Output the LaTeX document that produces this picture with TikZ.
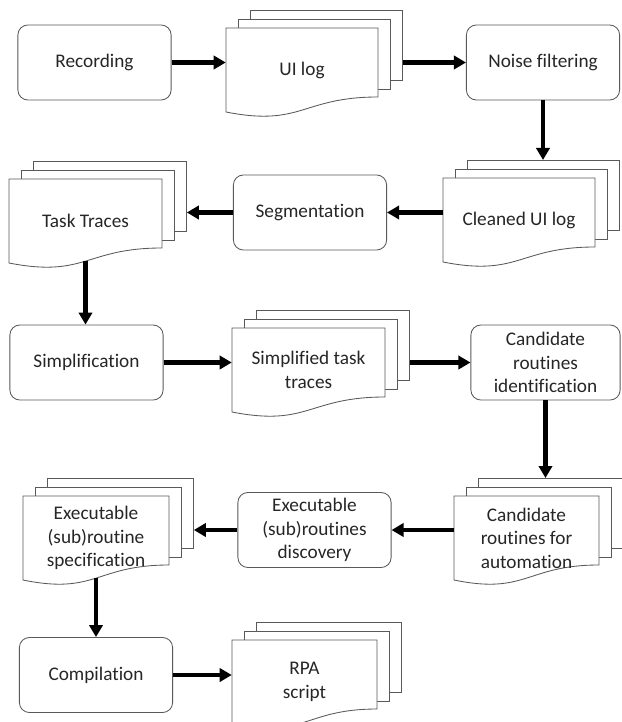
\documentclass[tikz,border=0pt]{standalone}
\usepackage{fontspec}
\setmainfont{Carlito}[Ligatures=NoCommon]
\usetikzlibrary{arrows.meta}

\tikzset{
  box/.style={draw=black!65,line width=0.6pt,rounded corners=0.25cm,minimum width=3.83cm,minimum height=1.875cm,inner sep=2pt,align=center,text=black!85},
  page/.style={draw=black!65,line width=0.6pt,fill=white,inner sep=0pt,minimum height=1.75cm},
  doctext/.style={align=center,text=black!85,inner sep=0pt,minimum height=2.1cm},
  flow/.style={->,line width=1.1mm},
}

% stack of three pages, the front one with a wavy bottom
% #1 name, #2 left x, #3 top y, #4 width, #5 text
\newcommand{\docstack}[5]{
  \node[page,minimum width=#4*0.025cm,anchor=north west] (#1-b) at (#2+24,#3-18) {};
  \node[page,minimum width=#4*0.025cm,anchor=north west] (#1-m) at (#2+12,#3-9) {};
  \draw[draw=black!65,line width=0.6pt,fill=white] (#2,#3) -- (#2+#4,#3) -- (#2+#4,#3+69)
    .. controls (#2+0.5*#4,#3+69) and (#2+0.5*#4,#3+99) .. (#2,#3+84) -- cycle;
  \node[doctext,minimum width=#4*0.025cm] (#1) at (#2+0.5*#4,#3+42) {#5};
}

\begin{document}
\begin{tikzpicture}[>={Triangle[length=3mm,width=3.3mm]},x=0.025cm,y=-0.025cm,font=\fontsize{13.7}{16.8}\selectfont]
\useasboundingbox (0,0) rectangle (621,722);
% row 1
\node[box] (rec) at (94.5,62.5) {Recording};
\docstack{uilog}{226}{28}{152}{UI log}
\node[box] (noise) at (543,62.5) {Noise filtering};
% row 2
\docstack{clean}{443}{178}{152}{Cleaned UI log}
\node[box] (seg) at (310,212.5) {Segmentation};
\docstack{tasks}{9}{179}{153}{Task Traces}
% row 3
\node[box] (simp) at (86.5,362.5) {Simplification};
\docstack{simpl}{232}{328}{153}{Simplified task\\traces}
\node[box,minimum width=3.73cm] (candid) at (545.5,362.5) {Candidate\\routines\\identification};
% row 4
\docstack{auto}{454}{496}{145}{Candidate\\routines for\\automation}
\node[box] (exec) at (314.5,530) {Executable\\(sub)routines\\discovery};
\docstack{spec}{23}{496}{146}{Executable\\(sub)routine\\specification}
% row 5
\node[box] (comp) at (96,675) {Compilation};
\docstack{rpa}{232}{640}{145}{RPA\\script}
% connectors
\draw[flow] (rec.east) -- (rec.east -| uilog.west);
\draw[flow] (uilog-b.east |- noise.west) -- (noise.west);
\draw[flow] (noise.south) -- (noise.south |- clean-b.north);
\draw[flow] (seg.east -| clean.west) -- (seg.east);
\draw[flow] (seg.west) -- (seg.west -| tasks-b.east);
\draw[flow] ([yshift=0.05cm]tasks.south) -- (tasks.south |- simp.north);
\draw[flow] (simp.east) -- (simp.east -| simpl.west);
\draw[flow] (simpl-b.east |- candid.west) -- (candid.west);
\draw[flow] (candid.south) -- (candid.south |- auto-b.north);
\draw[flow] (exec.east -| auto.west) -- (exec.east);
\draw[flow] (exec.west) -- (exec.west -| spec-b.east);
\draw[flow] ([yshift=0.05cm]spec.south) -- (spec.south |- comp.north);
\draw[flow] (comp.east) -- (comp.east -| rpa.west);
\end{tikzpicture}
\end{document}
